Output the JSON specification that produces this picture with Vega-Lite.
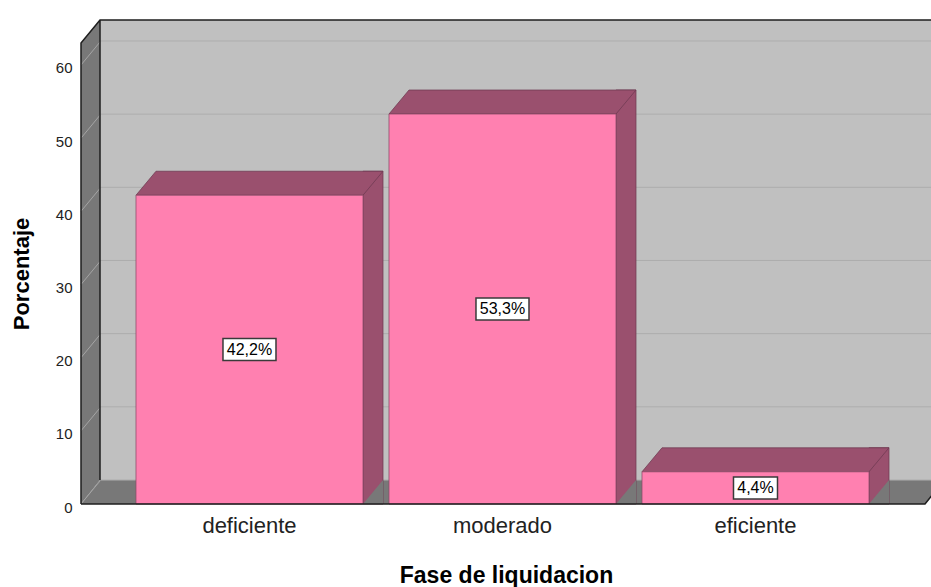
{
  "$schema": "https://vega.github.io/schema/vega-lite/v6.json",
  "width": 850,
  "height": 484,
  "autosize": {"type": "none"},
  "padding": {"left": 81, "top": 20, "right": 0, "bottom": 83},
  "background": "white",
  "config": {"view": {"stroke": null}, "font": "Liberation Sans"},
  "datasets": {
    "barras": [
      {"fase": "deficiente", "porcentaje": 42.2, "etiqueta": "42,2%"},
      {"fase": "moderado", "porcentaje": 53.3, "etiqueta": "53,3%"},
      {"fase": "eficiente", "porcentaje": 4.4, "etiqueta": "4,4%"}
    ],
    "marcas": [{"valor": 0}, {"valor": 10}, {"valor": 20}, {"valor": 30}, {"valor": 40}, {"valor": 50}, {"valor": 60}],
    "marco": [{"pieza": "marco"}]
  },
  "layer": [
    {
      "data": {"name": "marco"},
      "mark": {"type": "rect", "color": "#C0C0C0"},
      "encoding": {
        "x": {"value": 19}, "x2": {"value": 900},
        "y": {"value": 0}, "y2": {"value": 460}
      }
    },
    {
      "data": {"name": "marco"},
      "mark": {"type": "point", "shape": "M 0 0 L 844 0 L 863 -24 L 19 -24 Z", "size": 4, "filled": true, "color": "#787878", "opacity": 1},
      "encoding": {"x": {"value": 0}, "y": {"datum": 0, "type": "quantitative"}}
    },
    {
      "data": {"name": "marco"},
      "mark": {"type": "point", "shape": "M 0 0 L 0 -461 L 19 -484 L 19 -24 Z", "size": 4, "filled": true, "color": "#787878", "opacity": 1},
      "encoding": {"x": {"value": 0}, "y": {"datum": 0, "type": "quantitative"}}
    },
    {
      "data": {"name": "marcas"},
      "mark": {"type": "rule", "color": "#ADADAD", "strokeWidth": 1, "yOffset": -24},
      "encoding": {
        "x": {"value": 19}, "x2": {"value": 900},
        "y": {
          "field": "valor", "type": "quantitative",
          "scale": {"domain": [0, 66.15], "nice": false, "zero": true},
          "axis": {
            "values": [0, 10, 20, 30, 40, 50, 60],
            "title": "Porcentaje",
            "grid": false, "domain": false, "ticks": false,
            "labelFont": "Liberation Sans", "labelFontSize": 15, "labelColor": "#222222",
            "labelPadding": 9, "labelOffset": 3,
            "titleFont": "Liberation Sans", "titleFontSize": 22, "titleFontWeight": "bold", "titleColor": "#000000",
            "titleAngle": -90, "titleX": -53, "titleY": 253.5, "titleBaseline": "alphabetic", "titleAlign": "center"
          }
        }
      }
    },
    {
      "data": {"name": "marcas"},
      "mark": {"type": "point", "shape": "M 0 0 L 19 -23", "size": 4, "filled": false, "color": "#A5A5A5", "strokeWidth": 1, "opacity": 1},
      "encoding": {"x": {"value": 0}, "y": {"field": "valor", "type": "quantitative"}}
    },
    {
      "data": {"name": "barras"},
      "mark": {"type": "bar", "width": 20, "xOffset": 123.5, "yOffset": -24, "color": "#9A506E", "stroke": "#6E3A52", "strokeWidth": 0.75},
      "encoding": {
        "x": {
          "field": "fase", "type": "nominal", "sort": ["deficiente", "moderado", "eficiente"],
          "scale": {"paddingInner": 0.10277, "paddingOuter": 0.2312, "align": 0.47, "round": false},
          "axis": {
            "title": "Fase de liquidacion", "labelAngle": 0,
            "labelFont": "Liberation Sans", "labelFontSize": 22, "labelColor": "#222222", "labelPadding": 11,
            "ticks": false, "domain": false, "grid": false,
            "titleFont": "Liberation Sans", "titleFontSize": 23, "titleFontWeight": "bold", "titleColor": "#000000",
            "titleY": 78, "titleBaseline": "alphabetic"
          }
        },
        "y": {"field": "porcentaje", "type": "quantitative"},
        "y2": {"datum": 0}
      }
    },
    {
      "data": {"name": "barras"},
      "mark": {"type": "point", "shape": "M 113.5 0 L 133.5 0 L 133.5 -24 Z", "size": 4, "filled": true, "color": "#787878", "opacity": 1},
      "encoding": {
        "x": {"field": "fase", "type": "nominal", "sort": ["deficiente", "moderado", "eficiente"]},
        "y": {"datum": 0, "type": "quantitative"}
      }
    },
    {
      "data": {"name": "barras"},
      "mark": {"type": "point", "shape": "M -113.5 0 L 113.5 0 L 133.5 -24 L -93.5 -24 Z", "size": 4, "filled": true, "fill": "#9A506E", "stroke": "#6E3A52", "strokeWidth": 0.75, "opacity": 1},
      "encoding": {
        "x": {"field": "fase", "type": "nominal", "sort": ["deficiente", "moderado", "eficiente"]},
        "y": {"field": "porcentaje", "type": "quantitative"}
      }
    },
    {
      "data": {"name": "barras"},
      "mark": {"type": "bar", "fill": "#FF80B0", "stroke": "#8A4A66", "strokeWidth": 0.75},
      "encoding": {
        "x": {"field": "fase", "type": "nominal", "sort": ["deficiente", "moderado", "eficiente"]},
        "y": {"field": "porcentaje", "type": "quantitative"},
        "y2": {"datum": 0}
      }
    },
    {
      "data": {"name": "marco"},
      "mark": {"type": "point", "shape": "M 0 0 L 844 0 L 863 -24 M 0 0 L 0 -461 L 19 -484 L 900 -484 M 19 -484 L 19 -24", "size": 4, "filled": false, "color": "#1E1E1E", "strokeWidth": 1.5, "opacity": 1},
      "encoding": {"x": {"value": 0}, "y": {"datum": 0, "type": "quantitative"}}
    },
    {
      "data": {"name": "barras"},
      "transform": [{"calculate": "datum.porcentaje / 2", "as": "medio"}],
      "mark": {"type": "point", "size": 4, "filled": true, "fill": "#FFFFFF", "stroke": "#3A3A3A", "strokeWidth": 1.5, "opacity": 1},
      "encoding": {
        "x": {"field": "fase", "type": "nominal", "sort": ["deficiente", "moderado", "eficiente"]},
        "y": {"field": "medio", "type": "quantitative"},
        "shape": {
          "field": "etiqueta", "type": "nominal", "legend": null,
          "scale": {
            "domain": ["42,2%", "53,3%", "4,4%"],
            "range": ["M -26.5 -11 L 26.5 -11 L 26.5 11 L -26.5 11 Z", "M -26.5 -11 L 26.5 -11 L 26.5 11 L -26.5 11 Z", "M -22 -11 L 22 -11 L 22 11 L -22 11 Z"]
          }
        }
      }
    },
    {
      "data": {"name": "barras"},
      "transform": [{"calculate": "datum.porcentaje / 2", "as": "medio"}],
      "mark": {"type": "text", "font": "Liberation Sans", "fontSize": 16, "color": "#000000", "align": "center", "baseline": "middle"},
      "encoding": {
        "x": {"field": "fase", "type": "nominal", "sort": ["deficiente", "moderado", "eficiente"]},
        "y": {"field": "medio", "type": "quantitative"},
        "text": {"field": "etiqueta", "type": "nominal"}
      }
    }
  ]
}
